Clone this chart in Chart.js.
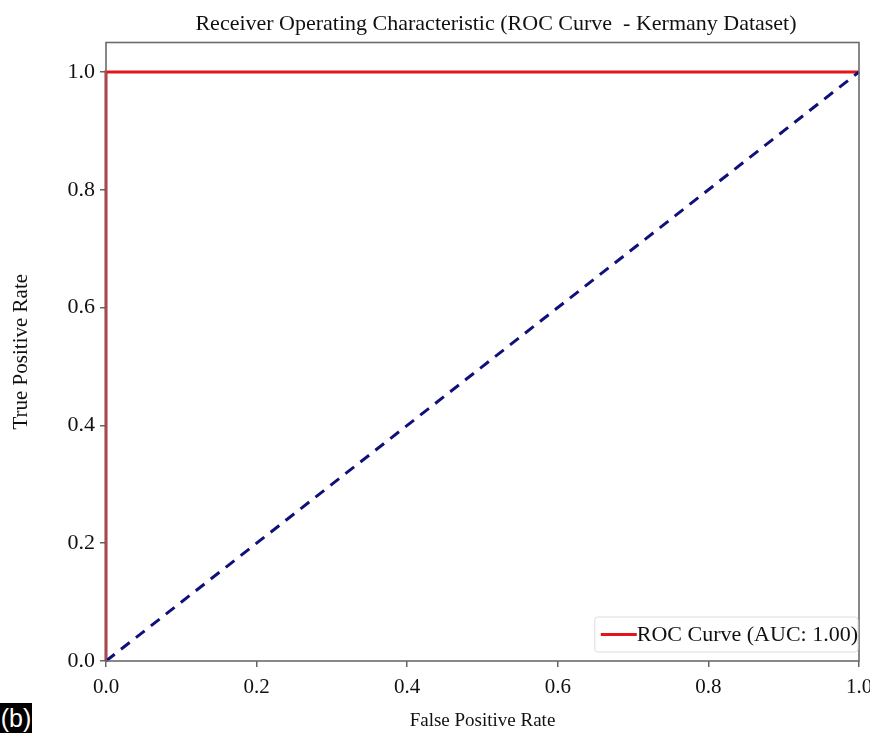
<!DOCTYPE html>
<html>
<head>
<meta charset="utf-8">
<script src="https://cdn.jsdelivr.net/npm/chart.js@4.4.1/dist/chart.umd.min.js"></script>
<style>
    body { margin: 0; background: #fff; }
    #wrap { position: relative; width: 870px; height: 733px; }
    #tag {
        position: absolute; left: 0; top: 703px; width: 32px; height: 30px;
        background: #000; color: #fff; font: 25px "Liberation Sans", sans-serif;
        line-height: 30px; text-align: center;
    }
</style>
</head>
<body>
<div id="wrap">
    <canvas id="rocChart" width="870" height="733"></canvas>
    <div id="tag">(b)</div>
</div>
<script>
// ROC curve points (false positive rate / true positive rate)
const rocFpr = [0, 0, 1];
const rocTpr = [0, 1, 1];
// chance line
const chanceFpr = [0, 1];
const chanceTpr = [0, 1];
const xTicks = [0, 0.2, 0.4, 0.6, 0.8, 1.0];
const yTicks = [0, 0.2, 0.4, 0.6, 0.8, 1.0];
const rocLabel = 'ROC Curve (AUC: 1.00)';
const titleText = 'Receiver Operating Characteristic (ROC Curve  - Kermany Dataset)';

const serif = '"Liberation Serif", "Times New Roman", serif';

// frame around the plot, like matplotlib spines (drawn over the curves)
const framePlugin = {
    id: 'frame',
    afterDatasetsDraw(chart) {
        const { ctx, chartArea: a } = chart;
        ctx.save();
        ctx.strokeStyle = '#6b6b6b';
        ctx.lineWidth = 1.6;
        ctx.strokeRect(a.left, a.top, a.right - a.left, a.bottom - a.top);
        ctx.restore();
    }
};

// title and legend box drawn by hand
const overlayPlugin = {
    id: 'overlay',
    afterDraw(chart) {
        const { ctx, chartArea: a } = chart;
        ctx.save();
        ctx.fillStyle = '#111';
        ctx.font = '22px ' + serif;
        ctx.textAlign = 'center';
        ctx.textBaseline = 'alphabetic';
        ctx.fillText(titleText, 496, 30);

        // legend
        ctx.font = '22px ' + serif;
        const textW = ctx.measureText(rocLabel).width;
        const boxRight = a.right - 1;
        const boxW = textW + 42;
        const boxLeft = boxRight - boxW;
        const boxTop = a.bottom - 44;
        const boxH = 35;
        ctx.beginPath();
        ctx.roundRect(boxLeft, boxTop, boxW, boxH, 3);
        ctx.fillStyle = 'rgba(255,255,255,0.85)';
        ctx.fill();
        ctx.strokeStyle = '#dcdcdc';
        ctx.lineWidth = 1;
        ctx.stroke();

        const midY = boxTop + boxH / 2;
        ctx.beginPath();
        ctx.moveTo(boxLeft + 6, midY);
        ctx.lineTo(boxLeft + 42, midY);
        ctx.strokeStyle = '#e3141c';
        ctx.lineWidth = 3;
        ctx.stroke();

        ctx.fillStyle = '#111';
        ctx.textAlign = 'left';
        ctx.textBaseline = 'middle';
        ctx.fillText(rocLabel, boxLeft + 42, midY + 1);
        ctx.restore();
    }
};

const ctx = document.getElementById('rocChart').getContext('2d');
new Chart(ctx, {
    type: 'line',
    data: {
        datasets: [
            {
                label: rocLabel,
                data: rocFpr.map((x, i) => ({ x: x, y: rocTpr[i] })),
                borderColor: '#e3141c',
                borderWidth: 3,
                pointRadius: 0,
                tension: 0,
                clip: false,
                order: 2
            },
            {
                label: 'Chance',
                data: chanceFpr.map((x, i) => ({ x: x, y: chanceTpr[i] })),
                borderColor: '#10107a',
                borderWidth: 3,
                borderDash: [11, 8],
                pointRadius: 0,
                tension: 0,
                clip: false,
                order: 1
            }
        ]
    },
    options: {
        responsive: false,
        animation: false,
        layout: { padding: { left: 0, top: 42.5, right: 11, bottom: 0 } },
        plugins: {
            legend: { display: false },
            title: { display: false },
            tooltip: { enabled: false }
        },
        scales: {
            x: {
                type: 'linear',
                min: 0,
                max: 1,
                afterBuildTicks: s => { s.ticks = xTicks.map(v => ({ value: v })); },
                afterFit: s => { s.height = 72; s.paddingLeft = 0; s.paddingRight = 0; },
                border: { display: false },
                grid: { drawOnChartArea: false, drawTicks: true, tickLength: 6, color: '#666', lineWidth: 1.5 },
                ticks: {
                    color: '#111',
                    padding: 8,
                    maxRotation: 0,
                    font: { family: serif, size: 21 },
                    callback: v => v.toFixed(1)
                },
                title: {
                    display: true,
                    text: 'False Positive Rate',
                    color: '#111',
                    font: { family: serif, size: 19 },
                    padding: { top: 0, bottom: 1 }
                }
            },
            y: {
                type: 'linear',
                min: 0,
                max: 1.05,
                afterBuildTicks: s => { s.ticks = yTicks.map(v => ({ value: v })); },
                afterFit: s => { s.width = 106; s.paddingTop = 0; s.paddingBottom = 0; },
                border: { display: false },
                grid: { drawOnChartArea: false, drawTicks: true, tickLength: 6, color: '#666', lineWidth: 1.5 },
                ticks: {
                    color: '#111',
                    padding: 5,
                    font: { family: serif, size: 22 },
                    callback: v => v.toFixed(1)
                },
                title: {
                    display: true,
                    text: 'True Positive Rate',
                    color: '#111',
                    font: { family: serif, size: 21 },
                    padding: { top: 9, bottom: 0 }
                }
            }
        }
    },
    plugins: [framePlugin, overlayPlugin]
});
</script>
</body>
</html>
